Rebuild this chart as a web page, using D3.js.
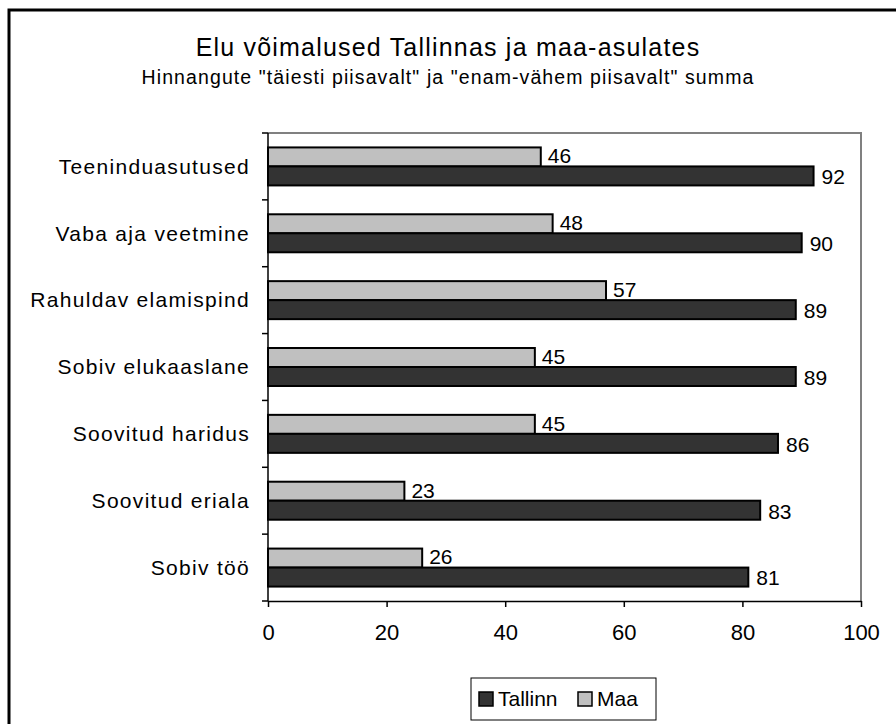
<!DOCTYPE html>
<html>
<head>
<meta charset="utf-8">
<script src="https://cdn.jsdelivr.net/npm/d3@7"></script>
<style>
  body { margin: 0; background: #fff; }
  text { font-family: "Liberation Sans", Arial, sans-serif; fill: #000; }
</style>
</head>
<body>
<div id="chart"></div>
<script>
// Chart data
const categories = ['Teeninduasutused', 'Vaba aja veetmine', 'Rahuldav elamispind',
  'Sobiv elukaaslane', 'Soovitud haridus', 'Soovitud eriala', 'Sobiv töö'];
const tallinnValues = [92, 90, 89, 89, 86, 83, 81];
const maaValues = [46, 48, 57, 45, 45, 23, 26];
const seriesNames = ['Tallinn', 'Maa'];
const xTicks = [0, 20, 40, 60, 80, 100];

const width = 896, height = 724;
const plot = { left: 268, right: 861, top: 133, bottom: 601 };

const svg = d3.select('#chart').append('svg')
  .attr('width', width)
  .attr('height', height);

// Outer frame
svg.append('rect')
  .attr('x', 9).attr('y', 10)
  .attr('width', width + 20).attr('height', height + 20)
  .attr('fill', 'none')
  .attr('stroke', '#000')
  .attr('stroke-width', 3);

// Titles
svg.append('text')
  .attr('x', 448).attr('y', 56)
  .attr('text-anchor', 'middle')
  .style('font-size', '25px')
  .style('letter-spacing', '1.2px')
  .text('Elu võimalused Tallinnas ja maa-asulates');

svg.append('text')
  .attr('x', 448).attr('y', 84)
  .attr('text-anchor', 'middle')
  .style('font-size', '19.5px')
  .style('letter-spacing', '1.1px')
  .text('Hinnangute "täiesti piisavalt" ja "enam-vähem piisavalt" summa');

const x = d3.scaleLinear().domain([0, 100]).range([plot.left, plot.right]);
const y = d3.scaleBand().domain(categories).range([plot.top, plot.bottom]);
const barH = 19;

// Plot area border (top/right grey)
svg.append('path')
  .attr('d', `M${plot.left},${plot.top}H${plot.right}V${plot.bottom}`)
  .attr('fill', 'none')
  .attr('stroke', '#808080')
  .attr('stroke-width', 2);

const data = categories.map((c, i) => ({ c, tallinn: tallinnValues[i], maa: maaValues[i] }));

// Maa bars (upper)
svg.selectAll('rect.maa')
  .data(data)
  .enter()
  .append('rect')
  .attr('class', 'maa')
  .attr('x', x(0))
  .attr('y', d => y(d.c) + y.bandwidth() / 2 - barH)
  .attr('width', d => x(d.maa) - x(0))
  .attr('height', barH)
  .style('fill', '#c0c0c0')
  .style('stroke', '#000')
  .style('stroke-width', 2);

// Tallinn bars (lower)
svg.selectAll('rect.tallinn')
  .data(data)
  .enter()
  .append('rect')
  .attr('class', 'tallinn')
  .attr('x', x(0))
  .attr('y', d => y(d.c) + y.bandwidth() / 2)
  .attr('width', d => x(d.tallinn) - x(0))
  .attr('height', barH)
  .style('fill', '#333333')
  .style('stroke', '#000')
  .style('stroke-width', 2);

// Value labels
svg.selectAll('text.maa-val')
  .data(data)
  .enter()
  .append('text')
  .attr('x', d => x(d.maa) + 7)
  .attr('y', d => y(d.c) + y.bandwidth() / 2 - barH / 2 - 1)
  .attr('dy', '0.35em')
  .style('font-size', '21px')
  .text(d => d.maa);

svg.selectAll('text.tal-val')
  .data(data)
  .enter()
  .append('text')
  .attr('x', d => x(d.tallinn) + 8)
  .attr('y', d => y(d.c) + y.bandwidth() / 2 + barH / 2 + 1)
  .attr('dy', '0.35em')
  .style('font-size', '21px')
  .text(d => d.tallinn);

// Category labels
svg.selectAll('text.cat')
  .data(categories)
  .enter()
  .append('text')
  .attr('x', 250)
  .attr('y', d => y(d) + y.bandwidth() / 2)
  .attr('dy', '0.35em')
  .attr('text-anchor', 'end')
  .style('font-size', '21px')
  .style('letter-spacing', '1.3px')
  .text(d => d);

// Left axis with ticks at band boundaries
const bounds = categories.map(c => y(c)).concat([plot.bottom]);
svg.append('line')
  .attr('x1', plot.left).attr('x2', plot.left)
  .attr('y1', plot.top).attr('y2', plot.bottom)
  .attr('stroke', '#000').attr('stroke-width', 1.5);
svg.selectAll('line.ytick')
  .data(bounds)
  .enter()
  .append('line')
  .attr('x1', plot.left - 6).attr('x2', plot.left)
  .attr('y1', d => d).attr('y2', d => d)
  .attr('stroke', '#000').attr('stroke-width', 1.5);

// Bottom axis
const xAxis = svg.append('g')
  .attr('transform', `translate(0,${plot.bottom})`)
  .call(d3.axisBottom(x).tickValues(xTicks).tickSize(6).tickPadding(17).tickSizeOuter(0));
xAxis.select('.domain').attr('stroke', '#000').attr('stroke-width', 1.5);
xAxis.selectAll('.tick line').attr('stroke', '#000').attr('stroke-width', 1.5);
xAxis.selectAll('.tick text')
  .style('font-size', '22px')
  .style('font-family', '"Liberation Sans", Arial, sans-serif');

// Legend
const legend = svg.append('g').attr('transform', 'translate(471,678)');
legend.append('rect')
  .attr('width', 185).attr('height', 42)
  .attr('fill', '#fff')
  .attr('stroke', '#000')
  .attr('stroke-width', 1);
const legendColors = ['#333333', '#c0c0c0'];
const legendX = [8, 107];
seriesNames.forEach((name, i) => {
  legend.append('rect')
    .attr('x', legendX[i]).attr('y', 14)
    .attr('width', 14).attr('height', 14)
    .attr('fill', legendColors[i])
    .attr('stroke', '#000')
    .attr('stroke-width', 1.5);
  legend.append('text')
    .attr('x', legendX[i] + 19).attr('y', 21)
    .attr('dy', '0.35em')
    .style('font-size', '21px')
    .text(name);
});
</script>
</body>
</html>
